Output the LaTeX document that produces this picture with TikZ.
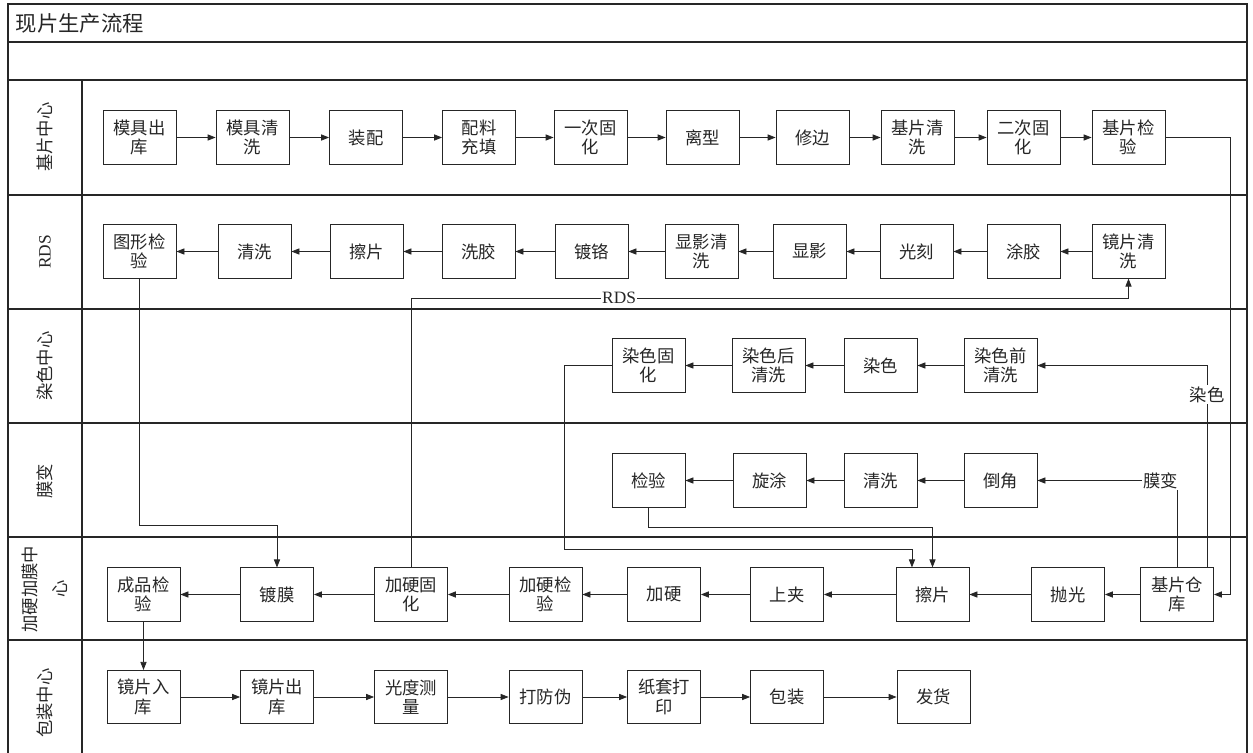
\documentclass[tikz,border=0pt]{standalone}
\usepackage{fontspec}
\setmainfont{Noto Sans CJK SC}
\newfontfamily\serifrds{Liberation Serif}
\usetikzlibrary{arrows.meta}

\begin{document}
\begin{tikzpicture}[x=0.75pt, y=-0.75pt, line width=0.6pt, color=black!85,
    every node/.style={font=\fontsize{13}{14.5}\selectfont},
    box/.style={draw, align=center, minimum width=54.75pt, minimum height=40pt, inner sep=1pt},
    flow/.style={-{Triangle[length=6pt,width=4.6pt]}},
    tag/.style={fill=white, inner sep=1pt},
    lane/.style={rotate=90, align=center}]
    \useasboundingbox (0,0) rectangle (1253,753);
    \clip (0,0) rectangle (1253,753);
    \draw[line width=0.9pt] (8,4) rectangle (1247,780);
    \foreach \y in {42,80,195,309,423,537,640} \draw[line width=0.9pt] (8,\y) -- (1247,\y);
    \draw[line width=0.9pt] (82,80) -- (82,780);
    \node[anchor=west, font=\fontsize{16}{18}\selectfont] (title) at (11,23) {现片生产流程};
    \foreach \n/\y/\t in {l1/137/基片中心, l2/252/{\serifrds RDS}, l3/366/染色中心, l4/481/膜变,
        l5/589/{加硬加膜中\\[8pt]心}, l6/703/包装中心}
        \node[lane] (\n) at (45,\y) {\t};
    \foreach \n/\x/\t in {a1/139.5/{模具出\\库}, a2/252.5/{模具清\\洗}, a3/366/装配, a4/479/{配料\\充填},
        a5/590.5/{一次固\\化}, a6/702.5/离型, a7/812.5/修边, a8/917.5/{基片清\\洗},
        a9/1023.5/{二次固\\化}, a10/1128.5/{基片检\\验}}
        \node[box] (\n) at (\x,137.5) {\t};
    \foreach \n/\x/\t in {b1/139.5/{图形检\\验}, b2/254.5/清洗, b3/366.5/擦片, b4/478.5/洗胶,
        b5/591.5/镀铬, b6/701.5/{显影清\\洗}, b7/809.5/显影, b8/916.5/光刻,
        b9/1023.5/涂胶, b10/1128.5/{镜片清\\洗}}
        \node[box] (\n) at (\x,251.5) {\t};
    \foreach \n/\x/\t in {c1/648.5/{染色固\\化}, c2/768.5/{染色后\\清洗}, c3/880.5/染色, c4/1000.5/{染色前\\清洗}}
        \node[box] (\n) at (\x,365.5) {\t};
    \foreach \n/\x/\t in {d1/648.5/检验, d2/769.5/旋涂, d3/880.5/清洗, d4/1000.5/倒角}
        \node[box] (\n) at (\x,480.5) {\t};
    \foreach \n/\x/\t in {e1/143.5/{成品检\\验}, e2/277/镀膜, e3/411/{加硬固\\化}, e4/545.5/{加硬检\\验},
        e5/664/加硬, e6/787/上夹, e7/932.5/擦片, e8/1068/抛光, e9/1177/{基片仓\\库}}
        \node[box] (\n) at (\x,594.5) {\t};
    \foreach \n/\x/\t in {f1/143.5/{镜片入\\库}, f2/277/{镜片出\\库}, f3/411/{光度测\\量}, f4/545.5/打防伪,
        f5/664/{纸套打\\印}, f6/787/包装, f7/933.5/发货}
        \node[box] (\n) at (\x,697) {\t};
    \foreach \i [count=\j from 2] in {1,...,9} {
        \draw[flow] (a\i) -- (a\j);
        \draw[flow] (b\j) -- (b\i);
    }
    \foreach \i [count=\j from 2] in {1,...,8} \draw[flow] (e\j) -- (e\i);
    \foreach \i [count=\j from 2] in {1,2,3} {
        \draw[flow] (c\j) -- (c\i);
        \draw[flow] (d\j) -- (d\i);
    }
    \foreach \i [count=\j from 2] in {1,...,6} \draw[flow] (f\i) -- (f\j);
    \coordinate (dye) at (1207,365.5);
    \coordinate (film) at (1177,480.5);
    \coordinate (e7in) at ([xshift=-15.4pt]e7.north);
    \draw[flow] (a10.east) -- ++(65,0) |- (e9.east);
    \draw[flow] (b1) -- (b1 |- 0,525) -| (e2);
    \draw[flow] (e3) -- (e3 |- 0,298) -- node[pos=0.29, tag] {\serifrds RDS} (b10 |- 0,298) -- (b10);
    \draw[flow] (e9.north -| dye) -- node[pos=0.855, tag] {染色} (dye) -- (c4);
    \draw[flow] (e9) -- (film) node[tag, anchor=east, xshift=2pt] {膜变} -- (d4);
    \draw[flow] (c1.west) -- ++(-47,0) |- (e7in |- 0,549) -- (e7in);
    \draw[flow] (d1) -- (d1 |- 0,527) -| (e7);
    \draw[flow] (e1) -- (f1);
\end{tikzpicture}
\end{document}
